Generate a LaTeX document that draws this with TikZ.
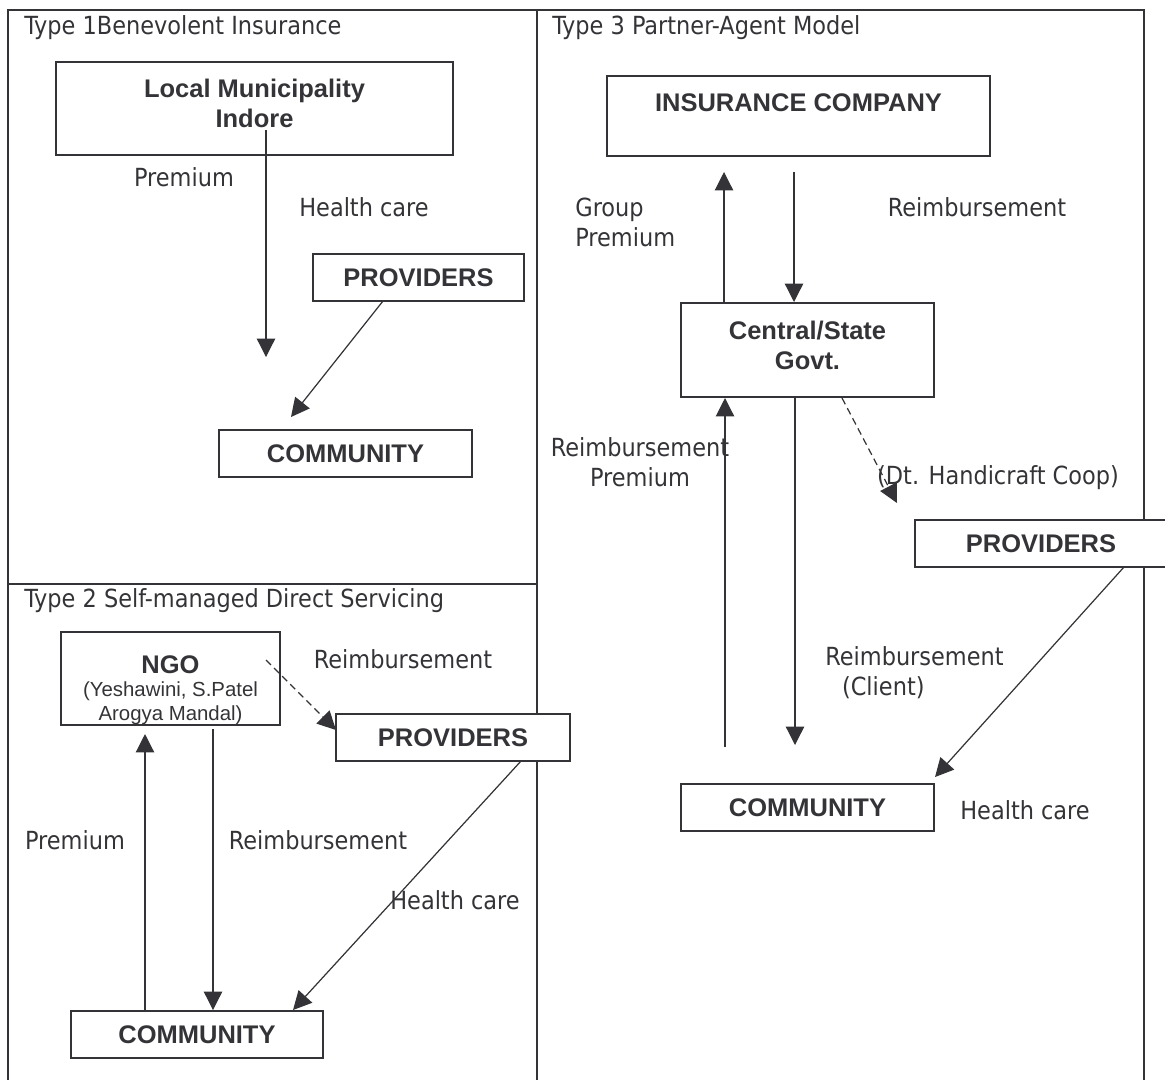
\documentclass[tikz,border=0pt]{standalone}
\usepackage{fontspec}
\setmainfont{DejaVu Sans Condensed}
\newfontfamily\boxfont{Liberation Sans}
\usetikzlibrary{arrows.meta}
\definecolor{ink}{RGB}{52,52,56}
\newcommand{\subtxt}{\mdseries\fontsize{11.6}{12.5}\selectfont}

\begin{document}
\begin{tikzpicture}
  [x=0.02cm,y=-0.02cm,
   frame/.style={draw=ink,line width=1.2pt},
   blk/.style={draw=ink,line width=0.8pt,fill=white,inner sep=0pt,align=center,
     text=ink,font=\boxfont\bfseries\fontsize{14.5}{17}\selectfont},
   lbl/.style={inner sep=0pt,text=ink,font=\fontsize{14.2}{17}\selectfont},
   arr/.style={draw=ink,line width=0.7pt,-{Triangle[length=10.5pt,width=10.5pt]}},
   dsh/.style={arr,dash pattern=on 4pt off 2.5pt}]
\useasboundingbox (0,0) rectangle (1165,1080);
\clip (0,0) rectangle (1165,1080);
% frame of the three panels
\draw[frame] (8,1080) -- (8,10) -- (1144,10) -- (1144,1080);
\draw[frame] (537,10) -- (537,1080);
\draw[frame] (8,584) -- (537,584);

% type 1
\node (t1)[lbl,anchor=west] at (24,28) {Type 1Benevolent Insurance};
\node (lm)[blk,minimum width=7.94cm,minimum height=1.86cm,text depth=6pt] at (254.5,108.5) {Local Municipality\\Indore};
\node (prov1)[blk,minimum width=4.22cm,minimum height=0.94cm] at (418.5,277.5) {PROVIDERS};
\node (com1)[blk,minimum width=5.06cm,minimum height=0.94cm] at (345.5,453.5) {COMMUNITY};
\node (l1a)[lbl] at (184,177) {Premium};
\node (l1b)[lbl] at (364,207) {Health care};

% type 2
\node (t2)[lbl,anchor=west] at (24,601) {Type 2 Self-managed Direct Servicing};
\node (ngo)[blk,minimum width=4.38cm,minimum height=1.86cm] at (170.5,678.5) {};
\node (ngotxt)[blk,draw=none,fill=none] at (170.5,690) {NGO\\[-3.7pt]\subtxt (Yeshawini, S.Patel\\[-3.4pt]\subtxt Arogya Mandal)};
\node (prov2)[blk,minimum width=4.68cm,minimum height=0.94cm] at (453,737.5) {PROVIDERS};
\node (com2)[blk,minimum width=5.04cm,minimum height=0.94cm] at (197,1034.5) {COMMUNITY};
\node (l2a)[lbl] at (403,659) {Reimbursement};
\node (l2b)[lbl] at (75,840) {Premium};
\node (l2c)[lbl] at (318,840) {Reimbursement};
\node (l2d)[lbl] at (455,900) {Health care};

% type 3
\node (t3)[lbl,anchor=west] at (552,28) {Type 3 Partner-Agent Model};
\node (ins)[blk,minimum width=7.66cm,minimum height=1.6cm,text depth=14.8pt] at (798.5,116) {INSURANCE COMPANY};
\node (cen)[blk,minimum width=5.06cm,minimum height=1.88cm,text depth=5.6pt] at (807.5,350) {Central/State\\Govt.};
\node (prov3)[blk,minimum width=5.04cm,minimum height=0.94cm] at (1041,543.5) {PROVIDERS};
\node (com3)[blk,minimum width=5.06cm,minimum height=0.94cm] at (807.5,807.5) {COMMUNITY};
\node (l3a)[lbl,anchor=west,align=left] at (575,222) {Group\\Premium};
\node (l3b)[lbl] at (977,207) {Reimbursement};
\node (l3c)[lbl,align=center] at (640,462) {Reimbursement\\Premium};
\node (l3d)[lbl] at (998,478) {(Dt. Handicraft Coop)};
\node (l3e)[lbl,anchor=west,align=left] at (825,673) {Reimbursement\\\hspace*{9.5pt}(Client)};
\node (l3f)[lbl] at (1025,810) {Health care};

% arrow ends
\coordinate (lmA) at (266,130);   \coordinate (lmB) at (266,357);
\coordinate (pv1A) at (383,301);  \coordinate (pv1B) at (291,417);
\coordinate (ngoA) at (266,660);  \coordinate (pv2B) at (336,730);
\coordinate (ngoD) at (213,729);  \coordinate (cm2D) at (213,1010);
\coordinate (cm2U) at (145,1011); \coordinate (ngoU) at (145,734);
\coordinate (pv2A) at (521,761);  \coordinate (cm2H) at (293,1010);
\coordinate (cenU) at (724,303);  \coordinate (insU) at (724,172);
\coordinate (insD) at (794,172);  \coordinate (cenD) at (794,302);
\coordinate (cm3U) at (725,747);  \coordinate (cenB) at (725,398);
\coordinate (cenC) at (795,398);  \coordinate (cm3D) at (795,745);
\coordinate (cenH) at (842,398);  \coordinate (pv3B) at (897,503);
\coordinate (pv3A) at (1124,567); \coordinate (cm3H) at (935,777);

\foreach \from/\to in {lmA/lmB,pv1A/pv1B,ngoD/cm2D,cm2U/ngoU,pv2A/cm2H,
    cenU/insU,insD/cenD,cm3U/cenB,cenC/cm3D,pv3A/cm3H}
  \draw[arr] (\from) -- (\to);
\foreach \from/\to in {ngoA/pv2B,cenH/pv3B}
  \draw[dsh] (\from) -- (\to);

\end{tikzpicture}
\end{document}
